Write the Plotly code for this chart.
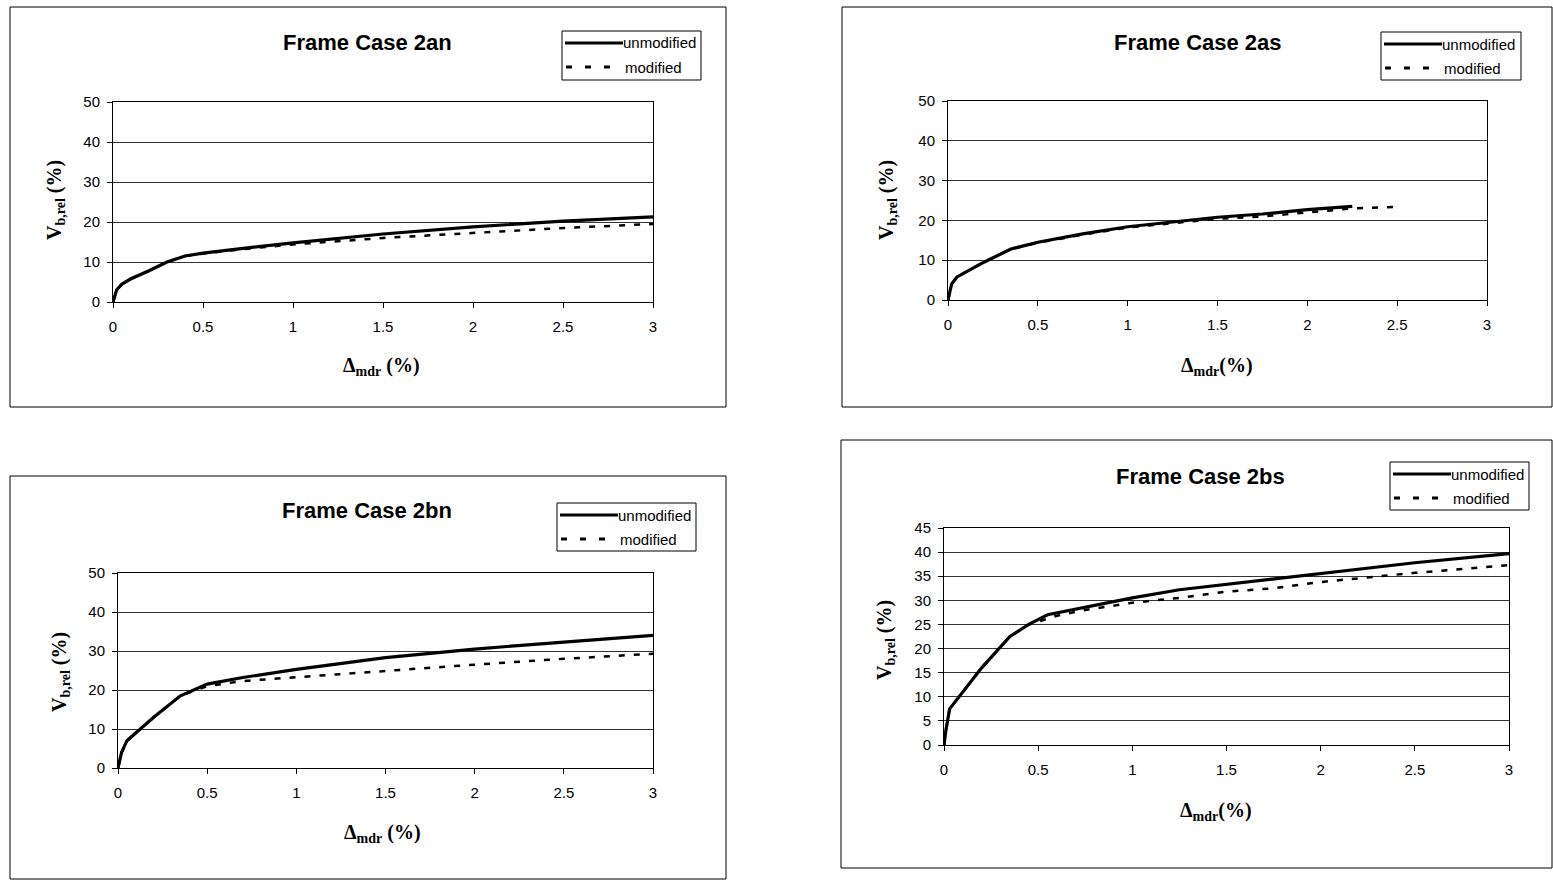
import plotly.graph_objects as go

W, H = 1553, 880

# ---- data ----
titles = ["Frame Case 2an", "Frame Case 2as", "Frame Case 2bn", "Frame Case 2bs"]
series_names = ["unmodified", "modified"]

an_unmod_x = [0, 0.02, 0.05, 0.1, 0.2, 0.3, 0.4, 0.5, 0.7, 1.0, 1.5, 2.0, 2.5, 3.0]
an_unmod_y = [0, 3.0, 4.5, 5.8, 7.8, 10.0, 11.5, 12.2, 13.3, 14.8, 17.0, 18.8, 20.2, 21.3]
an_mod_x = [0, 0.02, 0.05, 0.1, 0.2, 0.3, 0.4, 0.5, 0.7, 1.0, 1.5, 2.0, 2.5, 3.0]
an_mod_y = [0, 3.0, 4.5, 5.8, 7.8, 10.0, 11.5, 12.1, 13.1, 14.4, 16.0, 17.3, 18.5, 19.5]

as_unmod_x = [0, 0.02, 0.05, 0.1, 0.2, 0.35, 0.5, 0.75, 1.0, 1.25, 1.5, 1.75, 2.0, 2.25]
as_unmod_y = [0, 4.0, 5.8, 7.0, 9.5, 12.8, 14.5, 16.6, 18.4, 19.6, 20.8, 21.6, 22.7, 23.5]
as_mod_x = [0, 0.02, 0.05, 0.1, 0.2, 0.35, 0.5, 0.75, 1.0, 1.25, 1.5, 1.75, 2.0, 2.25, 2.5]
as_mod_y = [0, 4.0, 5.8, 7.0, 9.5, 12.8, 14.4, 16.4, 18.2, 19.3, 20.4, 21.0, 22.0, 23.0, 23.4]

bn_unmod_x = [0, 0.02, 0.05, 0.1, 0.2, 0.35, 0.5, 0.7, 1.0, 1.5, 2.0, 2.5, 3.0]
bn_unmod_y = [0, 4.0, 7.0, 9.0, 13.0, 18.5, 21.5, 23.2, 25.3, 28.3, 30.5, 32.3, 34.0]
bn_mod_x = [0, 0.02, 0.05, 0.1, 0.2, 0.35, 0.5, 0.7, 1.0, 1.5, 2.0, 2.5, 3.0]
bn_mod_y = [0, 4.0, 7.0, 9.0, 13.0, 18.5, 21.0, 22.3, 23.3, 25.0, 26.5, 28.0, 29.3]

bs_unmod_x = [0, 0.01, 0.03, 0.1, 0.2, 0.35, 0.45, 0.55, 0.75, 1.0, 1.25, 1.5, 1.85, 2.0, 2.5, 3.0]
bs_unmod_y = [0, 3.0, 7.5, 11.0, 16.0, 22.5, 25.0, 27.0, 28.5, 30.5, 32.2, 33.3, 35.0, 35.5, 37.8, 39.7]
bs_mod_x = [0, 0.01, 0.03, 0.1, 0.2, 0.35, 0.45, 0.6, 0.75, 1.0, 1.25, 1.5, 1.75, 2.0, 2.25, 2.5, 3.0]
bs_mod_y = [0, 3.0, 7.5, 11.0, 16.0, 22.5, 25.0, 26.8, 28.0, 29.5, 30.5, 31.8, 32.5, 33.8, 34.8, 35.7, 37.3]

x_ticks = [0, 0.5, 1, 1.5, 2, 2.5, 3]
x_ticktext = ["0", "0.5", "1", "1.5", "2", "2.5", "3"]

series = [
    (an_unmod_x, an_unmod_y, an_mod_x, an_mod_y),
    (as_unmod_x, as_unmod_y, as_mod_x, as_mod_y),
    (bn_unmod_x, bn_unmod_y, bn_mod_x, bn_mod_y),
    (bs_unmod_x, bs_unmod_y, bs_mod_x, bs_mod_y),
]
y_ranges = [(0, 50, 10), (0, 50, 10), (0, 50, 10), (0, 45, 5)]
x_titles = ["Δ<sub>mdr</sub> (%)", "Δ<sub>mdr</sub>(%)", "Δ<sub>mdr</sub> (%)", "Δ<sub>mdr</sub>(%)"]

# ---- layout geometry (window pixels) ----
plot_px = [(113, 653, 102, 302), (948, 1487, 101, 300), (118, 653, 573, 768), (944, 1509, 528, 745)]
frame_px = [(10, 726, 7, 407), (842, 1552, 7, 407), (10, 726, 476, 879), (841, 1552, 440, 868)]
title_px = [(367, 43), (1198, 43), (367, 510), (1200, 477)]
# legend box: left, top, right, bottom
legend_px = [(562, 31, 701, 80), (1381, 32, 1521, 80), (557, 503, 696, 551), (1390, 462, 1529, 510)]
xtitle_px = [(381, 366), (1217, 367), (382, 833), (1216, 811)]
ytitle_px = [(55, 200), (887, 200), (60, 672), (885, 640)]


def px(x):
    return x / W


def py(y):
    return 1 - y / H


SANS = "Liberation Sans, Arial, sans-serif"
SERIF = "Liberation Serif, Times New Roman, serif"

fig = go.Figure()
layout = dict(
    width=W, height=H, autosize=False, showlegend=False,
    margin=dict(l=0, r=0, t=0, b=0, pad=0, autoexpand=False),
    paper_bgcolor="white", plot_bgcolor="white",
    font=dict(family=SANS, color="black"),
    shapes=[], annotations=[],
)

for i in range(4):
    n = i + 1
    xa = "x" if n == 1 else f"x{n}"
    ya = "y" if n == 1 else f"y{n}"
    ux, uy, mx, my = series[i]
    fig.add_trace(go.Scatter(x=ux, y=uy, mode="lines", name=series_names[0],
                             line=dict(color="black", width=3.2), xaxis=xa, yaxis=ya))
    fig.add_trace(go.Scatter(x=mx, y=my, mode="lines", name=series_names[1],
                             line=dict(color="black", width=2.5, dash="6px,9px"),
                             xaxis=xa, yaxis=ya))
    l, r, t, b = plot_px[i]
    y0, y1, dy = y_ranges[i]
    xkey = "xaxis" if n == 1 else f"xaxis{n}"
    ykey = "yaxis" if n == 1 else f"yaxis{n}"
    layout[xkey] = dict(
        domain=[px(l), px(r)], anchor=ya, range=[0, 3],
        tickvals=x_ticks, ticktext=x_ticktext,
        showline=True, linecolor="black", linewidth=1, mirror=True,
        ticks="outside", ticklen=5, tickcolor="black", ticklabelstandoff=6,
        showgrid=False, zeroline=False, automargin=False,
        tickfont=dict(family=SANS, size=15, color="black"),
    )
    layout[ykey] = dict(
        domain=[py(b), py(t)], anchor=xa, range=[y0, y1], dtick=dy,
        showline=True, linecolor="black", linewidth=1, mirror=True,
        ticks="outside", ticklen=5, tickcolor="black", ticklabelstandoff=4,
        showgrid=True, gridcolor="#333333", gridwidth=1, zeroline=False, automargin=False,
        tickfont=dict(family=SANS, size=15, color="black"),
    )
    # outer chart frame
    fl, fr, ft, fb = frame_px[i]
    layout["shapes"].append(dict(type="rect", xref="paper", yref="paper",
                                 x0=px(fl), x1=px(fr), y0=py(fb), y1=py(ft),
                                 line=dict(color="black", width=1), layer="below"))
    # legend box (drawn like the spreadsheet legend)
    gl, gt, gr, gb = legend_px[i]
    layout["shapes"].append(dict(type="rect", xref="paper", yref="paper",
                                 x0=px(gl), x1=px(gr), y0=py(gb), y1=py(gt),
                                 line=dict(color="black", width=1), fillcolor="white"))
    row1 = gt + 12
    row2 = gt + 36
    layout["shapes"].append(dict(type="line", xref="paper", yref="paper",
                                 x0=px(gl + 3), x1=px(gl + 61), y0=py(row1), y1=py(row1),
                                 line=dict(color="black", width=3)))
    layout["shapes"].append(dict(type="line", xref="paper", yref="paper",
                                 x0=px(gl + 4), x1=px(gl + 51), y0=py(row2), y1=py(row2),
                                 line=dict(color="black", width=3, dash="6px,13px")))
    layout["annotations"].append(dict(text=series_names[0], x=px(gl + 61), y=py(row1),
                                      xref="paper", yref="paper", showarrow=False,
                                      xanchor="left", yanchor="middle", xshift=-2,
                                      font=dict(family=SANS, size=15, color="black")))
    layout["annotations"].append(dict(text=series_names[1], x=px(gl + 63), y=py(row2),
                                      xref="paper", yref="paper", showarrow=False,
                                      xanchor="left", yanchor="middle", xshift=-2,
                                      font=dict(family=SANS, size=15, color="black")))
    tx, ty = title_px[i]
    layout["annotations"].append(dict(text=f"<b>{titles[i]}</b>", x=px(tx), y=py(ty),
                                      xref="paper", yref="paper", showarrow=False,
                                      xanchor="center", yanchor="middle",
                                      font=dict(family=SANS, size=22, color="black")))
    xx, xy = xtitle_px[i]
    layout["annotations"].append(dict(text=f"<b>{x_titles[i]}</b>", x=px(xx), y=py(xy),
                                      xref="paper", yref="paper", showarrow=False,
                                      xanchor="center", yanchor="middle",
                                      font=dict(family=SERIF, size=20, color="black")))
    yx, yy = ytitle_px[i]
    layout["annotations"].append(dict(text="<b>V<sub>b,rel</sub> (%)</b>", x=px(yx), y=py(yy),
                                      xref="paper", yref="paper", showarrow=False, textangle=-90,
                                      xanchor="center", yanchor="middle",
                                      font=dict(family=SERIF, size=20, color="black")))

fig.update_layout(**layout)
fig.write_html("out.html")
